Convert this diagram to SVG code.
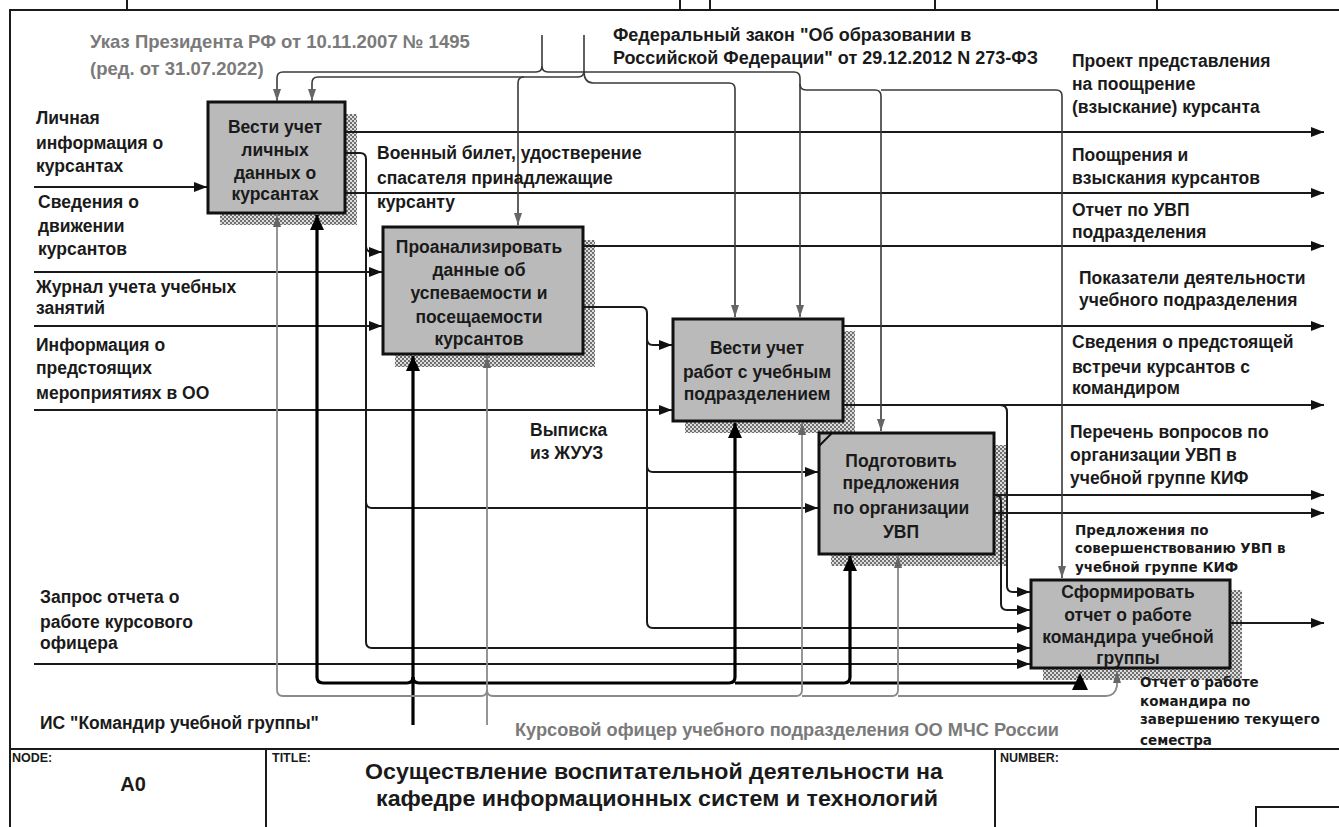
<svg xmlns="http://www.w3.org/2000/svg" width="1339" height="827" viewBox="0 0 1339 827">
<style>
  text { font-family: "Liberation Sans", Arial, sans-serif; font-weight: bold; fill: #1a1a1a; }
  .lbl { font-size: 17.5px; }
  .box-t { font-size: 17.5px; text-anchor: middle; }
  .gray { fill: #7a7a7a; }
  .small { font-family: "DejaVu Sans", sans-serif; font-size: 13.5px; }
  .hdr { font-size: 12.5px; }
  .frame { fill: none; stroke: #1a1a1a; stroke-width: 2; }
  .box { fill: #bababa; stroke: #111; stroke-width: 3; }
  .shadow { fill: url(#hatch); }
  .ln { fill: none; stroke: #1a1a1a; stroke-width: 2; }
  .ct { fill: none; stroke: #3a3a3a; stroke-width: 1.6; }
  .gm { fill: none; stroke: #8a8a8a; stroke-width: 1.8; }
  .bm { fill: none; stroke: #000; stroke-width: 3.2; }
</style>
<defs>
  <pattern id="hatch" width="4" height="4" patternUnits="userSpaceOnUse">
    <rect width="4" height="4" fill="#dcdcdc"/>
    <rect width="2" height="2" fill="#707070"/>
    <rect x="2" y="2" width="2" height="2" fill="#707070"/>
  </pattern>
  <marker id="a" viewBox="0 0 13 10" refX="13" refY="5" markerWidth="13" markerHeight="10" orient="auto" markerUnits="userSpaceOnUse">
    <path d="M0,0 L13,5 L0,10 z" fill="#111"/>
  </marker>
  <marker id="g" viewBox="0 0 12 8" refX="12" refY="4" markerWidth="12" markerHeight="8" orient="auto" markerUnits="userSpaceOnUse">
    <path d="M0,0 L12,4 L0,8 z" fill="#666"/>
  </marker>
  <marker id="k" viewBox="0 0 15 14" refX="15" refY="7" markerWidth="15" markerHeight="14" orient="auto" markerUnits="userSpaceOnUse">
    <path d="M0,0 L15,7 L0,14 z" fill="#000"/>
  </marker>
</defs>

<rect width="1339" height="827" fill="#ffffff"/>

<!-- sheet frame and title block -->
<g id="frame">
  <path class="frame" d="M10,827 V10 H1339"/>
  <path class="frame" d="M127,0 V10 M680,0 V10 M710,0 V10 M935,0 V10 M1157,0 V10"/>
  <path class="frame" d="M10,749 H1339 M266,749 V827 M995,749 V827 M1256,827 V807 H1339"/>
  <text class="hdr" x="12" y="762">NODE:</text>
  <text x="133" y="791" style="font-size:20px" text-anchor="middle">A0</text>
  <text class="hdr" x="272" y="762">TITLE:</text>
  <text x="654" y="779" style="font-size:22px" text-anchor="middle" textLength="578" lengthAdjust="spacingAndGlyphs">Осуществление воспитательной  деятельности на</text>
  <text x="657" y="806" style="font-size:22px" text-anchor="middle" textLength="562" lengthAdjust="spacingAndGlyphs">кафедре информационных систем  и технологий</text>
  <text class="hdr" x="1000" y="762">NUMBER:</text>
</g>

<!-- activity boxes -->
<g id="node-a1">
  <rect class="shadow" x="220" y="114" width="137" height="111"/>
  <rect class="box" x="208" y="102" width="137" height="111"/>
  <text class="box-t" x="275" y="133">Вести учет</text>
  <text class="box-t" x="275" y="156">личных</text>
  <text class="box-t" x="275" y="179">данных о</text>
  <text class="box-t" x="275" y="200">курсантах</text>
</g>
<g id="node-a2">
  <rect class="shadow" x="395" y="240" width="200" height="127"/>
  <rect class="box" x="383" y="227" width="200" height="127"/>
  <text class="box-t" x="479" y="253">Проанализировать</text>
  <text class="box-t" x="479" y="276">данные об</text>
  <text class="box-t" x="479" y="299">успеваемости и</text>
  <text class="box-t" x="479" y="323">посещаемости</text>
  <text class="box-t" x="479" y="345">курсантов</text>
</g>
<g id="node-a3">
  <rect class="shadow" x="685" y="331" width="170" height="102"/>
  <rect class="box" x="673" y="319" width="170" height="102"/>
  <text class="box-t" x="757" y="354">Вести учет</text>
  <text class="box-t" x="757" y="378">работ с учебным</text>
  <text class="box-t" x="757" y="400">подразделением</text>
</g>
<g id="node-a4">
  <rect class="shadow" x="831" y="445" width="175" height="121"/>
  <rect class="box" x="819" y="433" width="175" height="121"/>
  <path d="M819,446 L832,433" stroke="#111" stroke-width="2"/>
  <text class="box-t" x="901" y="467">Подготовить</text>
  <text class="box-t" x="901" y="489">предложения</text>
  <text class="box-t" x="901" y="514">по организации</text>
  <text class="box-t" x="901" y="538">УВП</text>
</g>
<g id="node-a5">
  <rect class="shadow" x="1043" y="590" width="199" height="90"/>
  <rect class="box" x="1031" y="580" width="199" height="88"/>
  <text class="box-t" x="1128" y="598">Сформировать</text>
  <text class="box-t" x="1128" y="621">отчет о работе</text>
  <text class="box-t" x="1128" y="643">командира учебной</text>
  <text class="box-t" x="1128" y="664">группы</text>
</g>

<!-- arrows -->
<g id="connectors">
  <!-- inputs from the boundary -->
  <path class="ln" d="M34,187 H207" marker-end="url(#a)"/>
  <path class="ln" d="M34,272 H382" marker-end="url(#a)"/>
  <path class="ln" d="M34,326 H382" marker-end="url(#a)"/>
  <path class="ln" d="M34,410 H672" marker-end="url(#a)"/>
  <path class="ln" d="M34,664 H1030" marker-end="url(#a)"/>

  <!-- outputs to the boundary -->
  <path class="ln" d="M346,132 H1324" marker-end="url(#a)"/>
  <path class="ln" d="M346,193 H1324" marker-end="url(#a)"/>
  <path class="ln" d="M584,246 H1324" marker-end="url(#a)"/>
  <path class="ln" d="M844,326 H1324" marker-end="url(#a)"/>
  <path class="ln" d="M844,405 H1324" marker-end="url(#a)"/>
  <path class="ln" d="M995,495 H1324" marker-end="url(#a)"/>
  <path class="ln" d="M995,513 H1324" marker-end="url(#a)"/>
  <path class="ln" d="M1231,623 H1324" marker-end="url(#a)"/>

  <!-- A1 documents feeding A2, A4, A5 -->
  <path class="ln" d="M346,153 H360 q6,0 6,6 V246 q0,6 6,6 H382" marker-end="url(#a)"/>
  <path class="ln" d="M366,240 V502 q0,6 6,6 H818" marker-end="url(#a)"/>
  <path class="ln" d="M366,500 V642 q0,6 6,6 H1030" marker-end="url(#a)"/>

  <!-- A2 results feeding A3, A4, A5 -->
  <path class="ln" d="M584,307 H641 q6,0 6,6 V339 q0,6 6,6 H672" marker-end="url(#a)"/>
  <path class="ln" d="M647,335 V466 q0,6 6,6 H818" marker-end="url(#a)"/>
  <path class="ln" d="M647,460 V622 q0,6 6,6 H1030" marker-end="url(#a)"/>

  <!-- A3 and A4 results feeding A5 -->
  <path class="ln" d="M1000,405 q7,0 7,7 V586 q0,6 6,6 H1030" marker-end="url(#a)"/>
  <path class="ln" d="M995,495 q6,0 6,6 V604 q0,6 6,6 H1030" marker-end="url(#a)"/>

  <!-- controls from the top boundary -->
  <path class="ct" d="M542,35 V66 q0,6 -6,6 H283 q-6,0 -6,6 V101" marker-end="url(#g)"/>
  <path class="ct" d="M542,66 q0,6 6,6 H794 q6,0 6,6 V317" marker-end="url(#g)"/>
  <path class="ct" d="M800,84 q0,6 6,6 H875 q6,0 6,6 V431" marker-end="url(#g)"/>
  <path class="ct" d="M881,90 H1056 q6,0 6,6 V578" marker-end="url(#g)"/>
  <path class="ct" d="M584,35 V71 q0,6 -6,6 H318 q-6,0 -6,6 V101" marker-end="url(#g)"/>
  <path class="ct" d="M524,77 q-6,0 -6,6 V225" marker-end="url(#g)"/>
  <path class="ct" d="M584,71 q0,12 9,12 H729 q6,0 6,6 V317" marker-end="url(#g)"/>

  <!-- mechanism: information system -->
  <path class="bm" d="M413,725 V356" marker-end="url(#k)"/>
  <path class="bm" d="M413,677 q0,6 -6,6 H323 q-6,0 -6,-6 V215" marker-end="url(#k)"/>
  <path class="bm" d="M413,677 q0,6 6,6 H729 q6,0 6,-6 V423" marker-end="url(#k)"/>
  <path class="bm" d="M735,683 H844 q6,0 6,-6 V556" marker-end="url(#k)"/>
  <path class="bm" d="M850,683 H1080"/>
  <path d="M1072,690 L1088,690 L1080,673 z" fill="#000"/>

  <!-- mechanism: course officer -->
  <path class="gm" d="M487,725 V356" marker-end="url(#g)"/>
  <path class="gm" d="M487,690 q0,6 -6,6 H283 q-6,0 -6,-6 V215" marker-end="url(#g)"/>
  <path class="gm" d="M487,690 q0,6 6,6 H796 q6,0 6,-6 V423" marker-end="url(#g)"/>
  <path class="gm" d="M802,696 H892 q6,0 6,-6 V556" marker-end="url(#g)"/>
  <path class="gm" d="M898,696 H1106 q9,0 11,-10 V671" marker-end="url(#g)"/>
</g>

<!-- arrow labels -->
<g id="labels">
  <text class="lbl gray" x="90" y="48" style="font-size:18.5px">Указ Президента РФ от 10.11.2007 № 1495</text>
  <text class="lbl gray" x="90" y="75" style="font-size:18.5px">(ред. от 31.07.2022)</text>
  <text class="lbl" x="613" y="41" style="font-size:18px">Федеральный закон "Об образовании в</text>
  <text class="lbl" x="613" y="64" style="font-size:18px">Российской Федерации" от 29.12.2012 N 273-ФЗ</text>

  <text class="lbl" x="36" y="124">Личная</text>
  <text class="lbl" x="36" y="149">информация о</text>
  <text class="lbl" x="36" y="172">курсантах</text>
  <text class="lbl" x="38" y="208">Сведения о</text>
  <text class="lbl" x="38" y="232">движении</text>
  <text class="lbl" x="38" y="255">курсантов</text>
  <text class="lbl" x="36" y="293">Журнал учета учебных</text>
  <text class="lbl" x="36" y="314">занятий</text>
  <text class="lbl" x="36" y="351">Информация о</text>
  <text class="lbl" x="36" y="374">предстоящих</text>
  <text class="lbl" x="36" y="399">мероприятиях в ОО</text>
  <text class="lbl" x="40" y="603">Запрос отчета о</text>
  <text class="lbl" x="40" y="628">работе курсового</text>
  <text class="lbl" x="40" y="649">офицера</text>
  <text class="lbl" x="40" y="729">ИС "Командир учебной группы"</text>

  <text class="lbl" x="377" y="159">Военный билет, удостверение</text>
  <text class="lbl" x="377" y="184">спасателя принадлежащие</text>
  <text class="lbl" x="377" y="208">курсанту</text>
  <text class="lbl" x="530" y="436">Выписка</text>
  <text class="lbl" x="530" y="459">из ЖУУЗ</text>

  <text class="lbl" x="1072" y="67">Проект представления</text>
  <text class="lbl" x="1072" y="90">на поощрение</text>
  <text class="lbl" x="1072" y="113">(взыскание) курсанта</text>
  <text class="lbl" x="1072" y="161">Поощрения и</text>
  <text class="lbl" x="1072" y="184">взыскания курсантов</text>
  <text class="lbl" x="1072" y="216">Отчет по УВП</text>
  <text class="lbl" x="1072" y="238">подразделения</text>
  <text class="lbl" x="1079" y="284">Показатели деятельности</text>
  <text class="lbl" x="1079" y="306">учебного подразделения</text>
  <text class="lbl" x="1072" y="348">Сведения о предстоящей</text>
  <text class="lbl" x="1072" y="373">встречи курсантов с</text>
  <text class="lbl" x="1072" y="394">командиром</text>
  <text class="lbl" x="1070" y="438">Перечень вопросов по</text>
  <text class="lbl" x="1070" y="461">организации УВП в</text>
  <text class="lbl" x="1070" y="484">учебной группе КИФ</text>

  <text class="small" x="1075" y="535">Предложения по</text>
  <text class="small" x="1075" y="553">совершенствованию УВП в</text>
  <text class="small" x="1075" y="572">учебной группе КИФ</text>
  <text class="small" x="1140" y="687">Отчет о работе</text>
  <text class="small" x="1140" y="706">командира по</text>
  <text class="small" x="1140" y="724">завершению текущего</text>
  <text class="small" x="1140" y="745">семестра</text>

  <text class="lbl gray" x="515" y="736" style="font-size:18.2px">Курсовой офицер учебного подразделения ОО МЧС России</text>
</g>
</svg>
